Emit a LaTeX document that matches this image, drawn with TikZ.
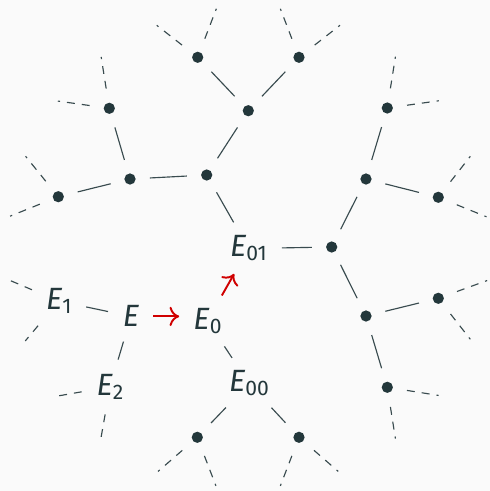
\documentclass[tikz,border=0pt]{standalone}
\usepackage{fontspec}
\setmainfont{Fira Sans}
\usetikzlibrary{arrows.meta}
\definecolor{mteal}{HTML}{23373B}
\definecolor{mbg}{HTML}{FAFAFA}
\definecolor{mred}{HTML}{D00000}
\newcommand{\Ecv}[1]{\textit{E}\raisebox{-2.3pt}{\fontsize{12}{12}\selectfont #1}}
\tikzset{
  every picture/.style={x=0.02cm, y=-0.02cm, line width=0.65pt},
  curve/.style={inner sep=0.5pt, text=mteal, font=\fontsize{17.5}{20}\selectfont},
  dot/.style={circle, fill=mteal, inner sep=0pt, minimum size=6.4pt},
  link/.style={draw=mteal!90, shorten <=7.8pt, shorten >=7.8pt},
  stub/.style={link, dash pattern=on 4.5pt off 4pt, shorten >=0pt},
  isog/.style={draw=mred, line width=1.1pt, -{To[length=5.5pt,width=11pt]}, shorten <=7.3pt, shorten >=7.3pt},
}

\begin{document}
\begin{tikzpicture}
  \useasboundingbox (0,0) rectangle (490,491);
  \fill[mbg] (0,0) rectangle (490,491);
  % labelled curves
  \node[curve] (E) at (131,316.4) {\textit{E}};
  \node[curve] (E1) at (58.7,301.1) {\Ecv{1}};
  \node[curve] (E2) at (110,386.8) {\Ecv{2}};
  \node[curve] (E0) at (207.5,320.8) {\Ecv{0}};
  \node[curve] (E00) at (249,383.5) {\Ecv{00}};
  \node[curve] (E01) at (248.5,248.5) {\Ecv{01}};
  % unlabelled curves
  \node[dot] (E000) at (197.3,437.3) {};
  \node[dot] (E001) at (299,437.3) {};
  \node[dot] (E010) at (206.7,175) {};
  \node[dot] (E011) at (331.7,247) {};
  \node[dot] (E0100) at (248.3,110.7) {};
  \node[dot] (E0101) at (130,179) {};
  \node[dot] (E01000) at (197.7,57.3) {};
  \node[dot] (E01001) at (299,57.3) {};
  \node[dot] (E01010) at (109.3,108.3) {};
  \node[dot] (E01011) at (58.3,196.7) {};
  \node[dot] (E0110) at (366,179) {};
  \node[dot] (E0111) at (366,316) {};
  \node[dot] (E01100) at (387.3,108) {};
  \node[dot] (E01101) at (438.3,197.3) {};
  \node[dot] (E01110) at (438.3,298.3) {};
  \node[dot] (E01111) at (387.3,387.3) {};
  % isogenies
  \foreach \a/\b in {E/E1, E/E2, E0/E00, E00/E000, E00/E001, E01/E010, E01/E011,
      E010/E0100, E010/E0101, E0100/E01000, E0100/E01001, E0101/E01010, E0101/E01011,
      E011/E0110, E011/E0111, E0110/E01100, E0110/E01101, E0111/E01110, E0111/E01111}
    \draw[link] (\a) -- (\b);
  % the tree goes on
  \foreach \v/\ang [count=\i] in {E1/-157, E1/130, E2/170, E2/100, E000/139, E000/69,
      E001/41, E001/111, E01000/-142, E01000/-69, E01001/-38, E01001/-111,
      E01010/-172, E01010/-99, E01011/-129, E01011/158, E01100/-8, E01100/-81,
      E01101/-52, E01101/22, E01110/-20, E01110/52, E01111/9, E01111/81}
  {
    \path (\v) ++(\ang:52) coordinate (end\i);
    \draw[stub] (\v) -- (end\i);
  }
  % walk
  \draw[isog] (E) -- (E0.west |- E);
  \draw[isog] (E0) -- (E01);
\end{tikzpicture}
\end{document}
